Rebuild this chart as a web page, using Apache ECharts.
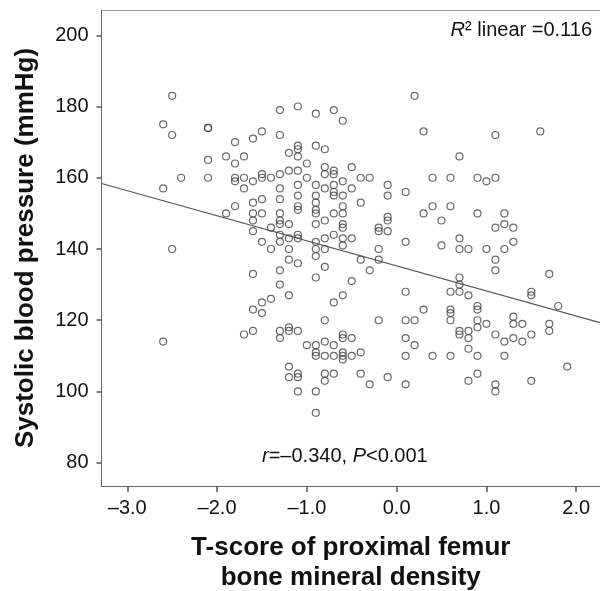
<!DOCTYPE html>
<html>
<head>
<meta charset="utf-8">
<script src="https://cdn.jsdelivr.net/npm/echarts@6/dist/echarts.min.js"></script>
<style>html,body{margin:0;padding:0;background:#fff}#chart{width:600px;height:591px}</style>
</head>
<body>
<div id="chart"></div>
<script>
// T-score of proximal femur BMD (x) and systolic blood pressure (y)
const tScore = [
  -2.5,-2.6,-2.5,-2.1,-2.1,-1.5,-1.8,-1.6,-2.1,-1.9,
  -1.8,-1.7,-2.4,-2.1,-1.8,-1.8,-1.7,-1.6,-1.5,-1.5,
  -2.6,-1.7,-1.5,-1.6,-1.8,-1.9,-1.6,-1.5,-1.6,-1.6,
  -1.5,-2.5,
  0.2,-1.3,-1.1,-0.9,-0.7,-0.6,0.3,-1.3,-1.1,-1.1,
  -1.2,-1.1,-0.9,-0.8,-1.0,-0.8,-0.7,-0.8,-0.7,-0.5,
  -1.4,-1.3,-1.2,-1.1,-1.0,-0.9,-0.8,-0.7,-0.6,-0.5,
  -0.4,-0.3,0.4,-1.3,-1.1,-0.1,-0.1,0.1,-1.3,-1.1,
  -0.9,-0.7,-0.7,-0.6,-0.9,-0.6,-0.4,-1.1,-1.1,0.4,
  0.3,-1.3,-0.9,-0.9,-0.7,-0.6,-0.8,-0.9,-1.3,-1.3,
  -1.2,-1.4,-0.6,-0.6,-0.1,-0.1,-0.2,-0.2,-0.1,0.1,
  -1.1,-1.1,-1.3,-1.3,-1.2,-1.4,-1.2,-0.9,-0.9,-0.8,
  -0.8,-0.7,-0.6,-0.6,-0.5,-0.2,
  1.1,1.6,0.7,0.6,0.9,1.0,1.1,0.6,0.5,0.9,
  1.2,1.1,1.2,1.3,0.7,0.5,0.7,0.8,1.0,1.2,
  1.3,
  -1.6,-1.5,-1.6,-1.5,-1.7,-1.6,-2.6,
  -1.2,-1.1,-0.9,-0.8,-0.4,-0.2,-0.3,-1.3,-0.9,-0.5,
  -1.3,-1.2,-1.4,-0.6,-0.7,0.1,0.3,-0.8,-0.2,0.1,
  0.2,-1.3,-1.3,-1.2,-1.2,-1.1,-0.6,-0.6,-0.5,-0.8,
  -1.0,-0.9,-0.7,0.1,0.2,-0.9,-0.9,-0.8,-0.7,-0.6,
  -0.6,-0.6,-0.5,-0.4,0.1,0.4,-1.2,-1.2,-1.1,-1.1,
  -0.8,-0.8,-0.7,-0.4,-0.3,-0.1,0.1,-1.1,-0.9,-0.9,
  1.1,1.1,1.7,0.7,0.7,0.6,0.7,0.8,1.5,1.5,
  1.8,0.6,0.6,0.6,0.9,0.9,0.9,0.9,1.0,1.3,
  1.3,1.4,1.7,1.7,0.7,0.7,0.8,0.8,1.1,1.2,
  1.3,1.4,1.5,0.6,0.8,0.9,1.2,1.9,0.9,0.8,
  1.1,1.1,1.5
];
const sbp = [
  183,175,172,174,174,173,170,171,165,166,
  164,166,160,160,160,159,160,159,161,160,
  157,157,154,153,152,150,150,150,148,145,
  142,140,
  183,179,180,178,179,176,173,172,169,168,
  167,166,169,168,164,163,162,161,161,163,
  160,161,162,162,160,158,157,158,159,157,
  160,160,160,157,158,158,155,156,154,155,
  155,155,156,155,153,152,153,152,151,152,
  150,150,150,151,150,150,148,147,148,147,
  147,146,147,146,149,148,146,145,145,142,
  144,143,144,142,143,140,140,142,140,143,
  140,144,143,141,143,140,
  172,173,166,160,160,159,160,152,148,150,
  150,146,147,146,143,141,140,140,140,140,
  142,
  133,125,123,122,116,117,114,
  137,136,138,135,137,137,134,134,132,131,
  130,127,126,127,125,128,123,120,120,120,
  120,117,115,118,117,117,116,115,115,114,
  113,113,113,115,113,111,110,110,110,110,
  111,109,110,111,110,110,107,104,105,104,
  105,103,105,105,102,104,102,100,100,94,
  137,134,133,132,130,128,128,127,127,128,
  124,123,122,120,124,123,120,118,119,121,
  119,119,119,117,117,116,117,115,116,114,
  115,114,116,110,112,110,110,107,105,103,
  102,100,103
];
// fitted linear regression line end points
const fitX = [-3.287, 2.265];
const fitY = [158.4, 119.3];
// axis ticks
const xTicks = [-3, -2, -1, 0, 1, 2];
const yTicks = [80, 100, 120, 140, 160, 180, 200];
const xRange = [-3.287, 2.265];
const yRange = [73.46, 207.1];
const xTitle = 'T-score of proximal femur\nbone mineral density';
const yTitle = 'Systolic blood pressure (mmHg)';
const r2Text = '{i|R}\u00B2 linear =0.116';
const rText = '{i|r}=\u20130.340, {i|P}<0.001';

const points = tScore.map((x, i) => [x, sbp[i]]);
const fitLine = fitX.map((x, i) => [x, fitY[i]]);

const FONT = '"Liberation Sans", Arial, sans-serif';
const chart = echarts.init(document.getElementById('chart'), null, {renderer: 'canvas'});
chart.setOption({
  animation: false,
  backgroundColor: '#fff',
  grid: {left: 101.5, right: 0, top: 10, bottom: 105, containLabel: false, outerBoundsMode: 'none'},
  xAxis: [{
    type: 'value', min: xRange[0], max: xRange[1],
    splitLine: {show: false},
    axisLine: {show: true, onZero: false, lineStyle: {color: '#666', width: 1}},
    axisTick: {show: true, customValues: xTicks, length: 6, lineStyle: {color: '#555', width: 1.5}},
    axisLabel: {customValues: xTicks, margin: 12, fontSize: 20, color: '#111', fontFamily: FONT,
      formatter: v => v.toFixed(1).replace('-', '\u2013')},
    name: xTitle, nameLocation: 'middle', nameGap: 47,
    nameTextStyle: {fontSize: 26, fontWeight: 'bold', color: '#111', fontFamily: FONT, lineHeight: 30}
  }, {
    type: 'value', position: 'top', min: xRange[0], max: xRange[1],
    splitLine: {show: false}, axisTick: {show: false}, axisLabel: {show: false},
    axisLine: {show: true, lineStyle: {color: '#999', width: 1}}
  }],
  yAxis: {
    type: 'value', min: yRange[0], max: yRange[1],
    splitLine: {show: false},
    axisLine: {show: true, onZero: false, lineStyle: {color: '#666', width: 1}},
    axisTick: {show: true, customValues: yTicks, length: 5, lineStyle: {color: '#555', width: 1.5}},
    axisLabel: {customValues: yTicks, margin: 13, fontSize: 20, color: '#111', fontFamily: FONT},
    name: yTitle, nameLocation: 'middle', nameGap: 63,
    nameTextStyle: {fontSize: 26, fontWeight: 'bold', color: '#111', fontFamily: FONT}
  },
  series: [{
    type: 'scatter', data: points, symbol: 'circle', symbolSize: 7,
    itemStyle: {color: 'rgba(255,255,255,0)', borderColor: '#444', borderWidth: 1.2},
    silent: true, z: 3
  }, {
    type: 'line', data: fitLine, showSymbol: false, symbol: 'none', silent: true,
    lineStyle: {color: '#555', width: 1.2}, z: 2
  }],
  graphic: [{
    type: 'text', right: 8, top: 20,
    style: {text: r2Text, fontSize: 20, fill: '#111', fontFamily: FONT,
      rich: {i: {fontStyle: 'italic', fontSize: 20, fontFamily: FONT}}}
  }, {
    type: 'text', left: 262, top: 446,
    style: {text: rText, fontSize: 20, fill: '#111', fontFamily: FONT,
      rich: {i: {fontStyle: 'italic', fontSize: 20, fontFamily: FONT}}}
  }]
});
</script>
</body>
</html>
